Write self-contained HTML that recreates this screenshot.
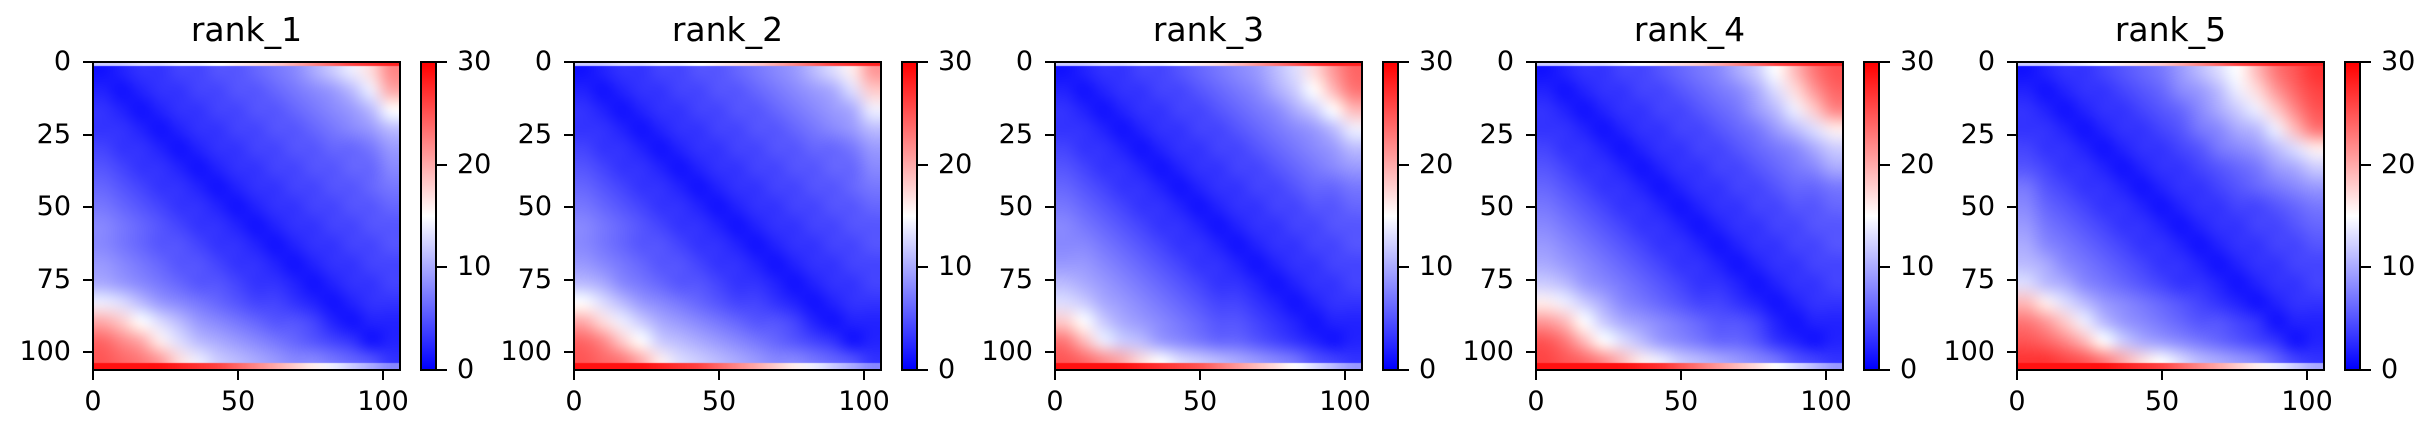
<!DOCTYPE html>
<html><head><meta charset="utf-8">
<style>
html,body{margin:0;padding:0;background:#fff;}
body{width:2435px;height:438px;position:relative;overflow:hidden;font-family:"DejaVu Sans","Liberation Sans",sans-serif;color:#000;}
.abs{position:absolute;}
.title{font-size:33px;text-align:center;width:307px;top:10px;line-height:40px;}
.tl{font-size:27px;line-height:27px;}
.tick{background:#000;}
.spine{border:2px solid #000;box-sizing:border-box;}
</style></head>
<body>
<script>
// Heatmap grids (16x16, values 0-30)
const categories = ["rank_1","rank_2","rank_3","rank_4","rank_5"];
const axisTicks = [0,25,50,75,100];
const xTicks = [0,50,100];
const cbarTicks = [0,10,20,30];
const nRes = 106;
const vmax = 30;
const rank1 = [
[1,2,3,3,4,4,5,5,6,7,8,10,12,14,17,22],
[2,1,2,3,3,4,4,5,5,6,7,8,9,11,14,20],
[3,2,1,2,3,3,4,4,5,5,6,7,8,9,11,15],
[3,3,2,1,2,3,3,4,4,5,5,6,7,8,9,11],
[4,3,3,2,1,2,3,3,4,4,5,5,6,6,7,9],
[5,4,3,3,2,1,2,3,3,4,4,5,5,6,6,8],
[6,5,4,3,3,2,1,2,3,3,4,4,5,5,6,7],
[7,6,5,4,3,3,2,1,2,3,3,4,4,5,5,6],
[8,7,6,5,4,3,3,2,1,2,3,3,4,4,5,5],
[8,7,6,5,5,4,3,3,2,1,2,3,3,4,4,5],
[9,8,7,6,5,5,4,3,3,2,1,2,3,3,4,4],
[10,9,8,7,6,5,5,4,3,3,2,1,2,3,3,4],
[14,13,11,9,8,7,6,5,4,4,3,2,1,2,3,3],
[20,18,15,13,11,9,8,7,6,5,5,4,2,1,2,2],
[24,22,20,16,13,11,10,9,8,7,6,5,4,3,1,2],
[25,24,23,21,17,14,12,11,10,9,8,8,7,6,5,3]];
const rank2 = [
[1,2,3,3,4,4,5,5,6,7,8,9,11,13,16,21],
[2,1,2,3,3,4,4,5,5,6,7,8,9,10,13,18],
[3,2,1,2,3,3,4,4,5,5,6,7,8,9,10,14],
[3,3,2,1,2,3,3,4,4,5,5,6,7,8,9,11],
[4,3,3,2,1,2,3,3,4,4,5,5,6,6,7,9],
[5,4,3,3,2,1,2,3,3,4,4,5,5,6,6,8],
[6,5,4,3,3,2,1,2,3,3,4,4,5,5,6,7],
[7,6,5,4,3,3,2,1,2,3,3,4,4,5,5,6],
[8,7,6,5,4,3,3,2,1,2,3,3,4,4,5,5],
[8,7,6,5,5,4,3,3,2,1,2,3,3,4,4,5],
[9,8,7,6,5,5,4,3,3,2,1,2,3,3,4,4],
[11,10,8,7,6,5,5,4,3,3,2,1,2,3,3,4],
[15,13,11,9,8,7,6,5,4,4,3,2,1,2,3,3],
[20,17,14,12,10,9,8,7,6,5,5,4,2,1,2,2],
[24,22,18,15,12,11,10,9,8,7,6,5,4,3,1,2],
[25,24,23,20,16,13,12,11,10,9,8,8,7,6,5,3]];
const rank3 = [
[1,2,3,3,4,4,5,6,7,8,9,11,13,17,21,24],
[2,1,2,3,3,4,4,5,6,7,8,10,12,15,19,23],
[3,2,1,2,3,3,4,4,5,6,7,8,10,12,15,19],
[3,3,2,1,2,3,3,4,4,5,6,7,8,9,11,14],
[4,3,3,2,1,2,3,3,4,4,5,6,7,8,9,11],
[5,4,3,3,2,1,2,3,3,4,4,5,6,7,8,9],
[6,5,4,3,3,2,1,2,3,3,4,4,5,6,6,7],
[7,6,5,4,3,3,2,1,2,3,3,4,4,5,5,6],
[8,7,6,5,4,3,3,2,1,2,3,3,4,4,5,5],
[8,8,7,6,5,4,3,3,2,1,2,3,3,4,4,5],
[9,9,8,7,6,5,4,3,3,2,1,2,3,3,4,4],
[11,10,9,8,7,6,5,4,3,3,2,1,2,3,3,4],
[13,12,10,9,8,7,6,5,4,4,3,2,1,2,3,3],
[18,15,12,10,9,8,7,6,5,5,4,3,2,1,2,2],
[23,19,14,12,11,9,8,7,6,6,5,4,3,2,1,2],
[25,24,22,20,17,15,13,12,11,10,9,8,7,5,4,3]];
const rank4 = [
[1,2,3,3,4,4,5,6,7,8,10,12,15,19,23,25],
[2,1,2,3,3,4,4,5,6,7,8,10,13,17,21,24],
[3,2,1,2,3,3,4,4,5,6,7,9,11,14,18,22],
[3,3,2,1,2,3,3,4,4,5,6,7,9,11,13,16],
[4,3,3,2,1,2,3,3,4,4,5,6,7,8,10,12],
[5,4,3,3,2,1,2,3,3,4,4,5,6,7,8,10],
[6,5,4,3,3,2,1,2,3,3,4,4,5,6,6,7],
[7,6,5,4,3,3,2,1,2,3,3,4,4,5,5,6],
[8,7,6,5,4,3,3,2,1,2,3,3,4,4,5,5],
[9,8,7,6,5,4,3,3,2,1,2,3,3,4,4,5],
[10,9,8,7,6,5,4,3,3,2,1,2,3,3,4,4],
[12,11,9,8,7,6,5,4,3,3,2,1,2,3,3,4],
[16,14,12,10,8,7,6,5,4,4,3,2,1,2,3,3],
[21,19,15,12,10,9,8,7,6,5,5,4,2,1,2,2],
[25,23,19,15,13,11,9,8,7,6,6,5,3,2,1,2],
[26,25,24,22,19,16,14,12,11,10,9,8,7,5,4,3]];
const rank5 = [
[1,2,3,3,4,5,6,7,9,11,13,15,19,23,25,27],
[2,1,2,3,3,4,5,6,8,9,11,14,17,21,24,26],
[3,2,1,2,3,3,4,5,6,8,10,12,14,18,22,25],
[3,3,2,1,2,3,3,4,5,7,8,10,11,14,19,23],
[4,3,3,2,1,2,3,3,4,5,7,8,9,11,13,16],
[5,4,3,3,2,1,2,3,3,4,5,6,7,9,10,12],
[7,5,4,3,3,2,1,2,3,3,4,5,6,7,8,9],
[8,6,5,4,3,3,2,1,2,3,3,4,4,5,6,7],
[9,7,6,5,4,3,3,2,1,2,3,3,4,4,5,6],
[10,8,7,6,5,4,3,3,2,1,2,3,3,4,4,5],
[11,10,8,7,6,5,4,3,3,2,1,2,3,3,4,4],
[13,11,10,8,7,6,5,4,3,3,2,1,2,3,3,4],
[19,16,13,11,9,8,7,6,5,4,3,2,1,2,3,3],
[23,21,18,14,11,9,8,7,6,5,5,4,3,1,2,2],
[25,24,22,19,15,12,10,9,8,7,6,5,4,3,1,2],
[27,27,26,25,23,20,17,15,13,11,10,9,8,6,4,3]];
const grids = [rank1,rank2,rank3,rank4,rank5];
// thin first-row and last-row bands (16 column blocks)
const topEdge1 = [12,12,13,13,14,14,15,16,17,18,20,22,24,26,27,28];
const topEdge2 = [12,12,13,13,14,14,15,16,17,18,20,22,24,26,27,28];
const topEdge3 = [12,12,13,13,14,14,15,16,17,19,21,23,25,27,28,28];
const topEdge4 = [12,12,13,13,14,15,16,17,18,20,22,24,26,27,28,28];
const topEdge5 = [12,12,13,14,15,16,17,18,20,22,24,26,27,28,28,28];
const botEdge1 = [29,29,29,29,28,27,26,24,22,20,18,16,14,12,10,8];
const botEdge2 = [29,29,29,29,28,27,26,24,22,20,18,16,14,12,10,8];
const botEdge3 = [29,29,29,29,28,27,26,25,23,21,19,17,15,13,11,9];
const botEdge4 = [29,29,29,29,29,28,27,25,23,21,19,17,15,13,11,9];
const botEdge5 = [29,29,29,29,29,28,27,26,24,22,20,18,16,14,12,10];
const topEdges = [topEdge1,topEdge2,topEdge3,topEdge4,topEdge5];
const botEdges = [botEdge1,botEdge2,botEdge3,botEdge4,botEdge5];

const AX_TOP = 62, AX_W = 307, AX_H = 308, PANEL_DX = 481, AX_LEFT0 = 93;
const SCALE = 2.9;
function xPos(v){ return v*SCALE; }
function yPos(v){ return v*SCALE; }
function bwr(v){
  let t=Math.max(0,Math.min(1,v/vmax));
  let r,g,b;
  if(t<0.5){ r=g=Math.round(510*t); b=255; } else { r=255; g=b=Math.round(510*(1-t)); }
  return [r,g,b];
}
function el(tag, cls, style, text){
  const e=document.createElement(tag);
  if(cls) e.className=cls;
  Object.assign(e.style, style);
  if(text!==undefined) e.textContent=text;
  document.body.appendChild(e);
  return e;
}
function stripImage(arr){
  const c=document.createElement('canvas'); c.width=arr.length; c.height=1;
  const x=c.getContext('2d'); const im=x.createImageData(arr.length,1);
  arr.forEach((v,k)=>{const [R,G,B]=bwr(v);im.data[k*4]=R;im.data[k*4+1]=G;im.data[k*4+2]=B;im.data[k*4+3]=255;});
  x.putImageData(im,0,0); return c;
}
categories.forEach((name,i)=>{
  const L = AX_LEFT0 + PANEL_DX*i;
  const grid = grids[i];
  const n = grid.length;
  const small=document.createElement('canvas'); small.width=n; small.height=n;
  const sctx=small.getContext('2d');
  const img=sctx.createImageData(n,n);
  for(let r=0;r<n;r++)for(let c=0;c<n;c++){
    const [R,G,B]=bwr(grid[r][c]); const k=(r*n+c)*4;
    img.data[k]=R;img.data[k+1]=G;img.data[k+2]=B;img.data[k+3]=255;
  }
  sctx.putImageData(img,0,0);
  const cv=el('canvas','abs',{left:L+'px',top:AX_TOP+'px'});
  cv.width=AX_W; cv.height=AX_H;
  
  
  const ctx=cv.getContext('2d'); ctx.imageSmoothingEnabled=true; ctx.imageSmoothingQuality='high';
  ctx.drawImage(small,0,0,n,n,0,0,AX_W,AX_H);
  const te=stripImage(topEdges[i]), be=stripImage(botEdges[i]);
  ctx.drawImage(te,0,0,n,1,0,0,AX_W,yPos(1.5));
  ctx.drawImage(be,0,0,n,1,0,AX_H-yPos(2.5),AX_W,yPos(2.5));
  const sp=el('div','abs spine',{left:(L-1)+'px',top:(AX_TOP-1)+'px',width:(AX_W+2)+'px',height:(AX_H+2)+'px'});
  
  
  const t=el('div','abs title',{left:L+'px'},name);
  
  
  axisTicks.forEach(v=>{
    const y=AX_TOP+yPos(v);
    const tk=el('div','abs tick',{left:(L-10)+'px',top:(y-1)+'px',width:'10px',height:'2px'});
    
    
    const lb=el('div','abs tl',{left:(L-122)+'px',width:'100px',textAlign:'right',top:(y-14)+'px'},String(v));
    
    
  });
  xTicks.forEach(v=>{
    const x=L+xPos(v);
    const tk=el('div','abs tick',{left:(x-1)+'px',top:(AX_TOP+AX_H)+'px',width:'2px',height:'10px'});
    
    
    const lb=el('div','abs tl',{left:(x-50)+'px',width:'100px',textAlign:'center',top:'388px'},String(v));
    
    
  });
  const CL=L+327;
  const cb=el('div','abs spine',{left:CL+'px',top:(AX_TOP-1)+'px',width:'17px',height:(AX_H+2)+'px',background:'linear-gradient(to top,#0000ff,#ffffff,#ff0000)'});
  
  
  cbarTicks.forEach(v=>{
    const y=AX_TOP+AX_H-(v/vmax)*AX_H;
    const tk=el('div','abs tick',{left:(CL+17)+'px',top:(y-1)+'px',width:'10px',height:'2px'});
    
    
    const lb=el('div','abs tl',{left:(CL+37)+'px',top:(y-14)+'px'},String(v));
    
    
  });
});
</script>
</body></html>
